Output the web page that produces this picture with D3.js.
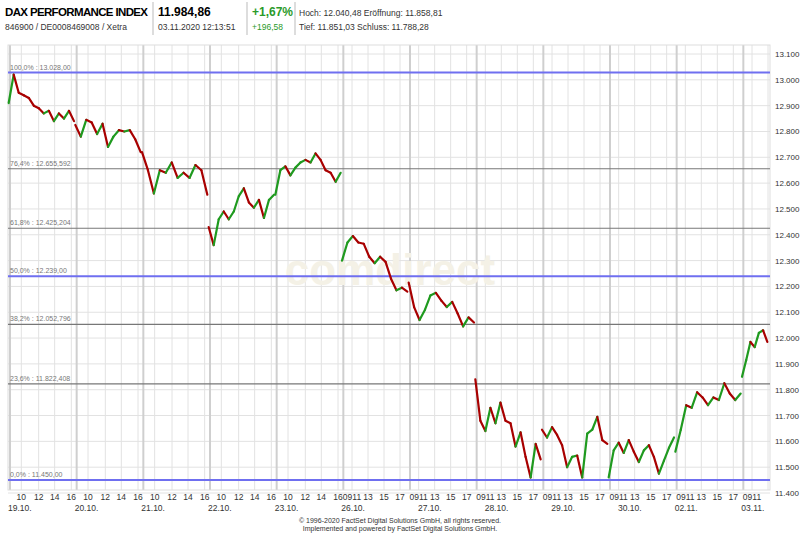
<!DOCTYPE html>
<html><head><meta charset="utf-8">
<script src="https://cdn.jsdelivr.net/npm/d3@7"></script>
<style>body{margin:0;background:#fff;font-family:Arial,"Liberation Sans",sans-serif}</style>
</head><body><svg id="c" width="800" height="533"></svg>
<script>
const dayLabels = ["19.10.","20.10.","21.10.","22.10.","23.10.","26.10.","27.10.","28.10.","29.10.","30.10.","02.11.","03.11."];
const dayValues = [
 [12910,13020,12950,12940,12930,12900,12890,12870,12880,12840,12870,12850,12880,12840],
 [12825,12780,12845,12835,12790,12830,12740,12780,12805,12800,12805,12770,12720],
 [12720,12650,12560,12650,12640,12680,12620,12640,12620,12670,12650,12555],
 [12430,12360,12460,12490,12460,12490,12550,12580,12525,12505,12535,12465,12535,12555],
 [12555,12650,12665,12630,12660,12680,12690,12680,12715,12690,12650,12640,12605,12640],
 [12300,12370,12395,12370,12365,12315,12290,12315,12295,12230,12185,12195,12180],
 [12215,12120,12070,12110,12165,12175,12145,12120,12140,12095,12045,12080,12060],
 [11840,11680,11640,11730,11670,11750,11680,11670,11580,11635,11540,11460,11590,11530],
 [11645,11615,11655,11625,11585,11500,11540,11545,11460,11630,11645,11695,11605,11590],
 [11460,11565,11595,11555,11605,11560,11520,11565,11585,11540,11475,11525,11575,11615],
 [11560,11645,11740,11730,11790,11770,11740,11770,11760,11825,11785,11760,11785],
 [11850,11915,11985,11965,12020,12030,11985]
];
const daySpan = [0.98,0.98,0.98,0.98,0.98,0.98,0.98,0.98,0.98,0.98,0.98,0.38];
const hourLabelsA = ["10","12","14","16"], hourPosA = [0.2,0.46,0.7,0.95];
const hourLabelsB = ["0911","13","15","17"], hourPosB = [0.16,0.4,0.64,0.88];
const yTicks = [11400,11500,11600,11700,11800,11900,12000,12100,12200,12300,12400,12500,12600,12700,12800,12900,13000,13100];
const fibLabels = ["100,0% : 13.028,00","76,4% : 12.655,592","61,8% : 12.425,204","50,0% : 12.239,00","38,2% : 12.052,796","23,6% : 11.822,408","0,0% : 11.450,00"];
const fibValues = [13028,12655.592,12425.204,12239,12052.796,11822.408,11450];
const fibBlue = [true,false,false,true,false,false,true];

const svg = d3.select("#c");
const L=8,R=770,T=45,B=490;
const x = d3.scaleLinear().domain([0,12]).range([8,808]);
const y = d3.scaleLinear().domain([11400,13100]).range([493,54]);
const fmt = v => d3.format(",")(v).replace(/,/g,".");

const h = svg.append("g");
h.append("text").attr("x",5).attr("y",16).attr("font-size",11.5).attr("font-weight","bold").attr("textLength",143).text("DAX PERFORMANCE INDEX");
h.append("text").attr("x",5).attr("y",30).attr("font-size",8.5).attr("fill","#333").text("846900 / DE0008469008 / Xetra");
h.append("text").attr("x",158).attr("y",16).attr("font-size",12).attr("font-weight","bold").text("11.984,86");
h.append("text").attr("x",158).attr("y",30).attr("font-size",8.5).attr("fill","#333").text("03.11.2020 12:13:51");
h.append("text").attr("x",252).attr("y",16).attr("font-size",12).attr("font-weight","bold").attr("fill","#2a9a2a").text("+1,67%");
h.append("text").attr("x",252).attr("y",30).attr("font-size",8.5).attr("fill","#2a9a2a").text("+196,58");
h.append("text").attr("x",299).attr("y",16).attr("font-size",8.5).attr("fill","#333").text("Hoch: 12.040,48  Eröffnung: 11.858,81");
h.append("text").attr("x",299).attr("y",30).attr("font-size",8.5).attr("fill","#333").text("Tief: 11.851,03     Schluss: 11.788,28");
[153,247,295].forEach(px=>h.append("line").attr("x1",px).attr("x2",px).attr("y1",2).attr("y2",35).attr("stroke","#bbb"));

const g = svg.append("g");
yTicks.forEach(v=>g.append("line").attr("x1",L).attr("x2",R).attr("y1",y(v)).attr("y2",y(v)).attr("stroke","#e2e2e2"));
dayLabels.forEach((d,i)=>{
  const pos = i<5?hourPosA:hourPosB;
  pos.forEach(p=>{ if(x(i+p)<R) g.append("line").attr("x1",x(i+p)).attr("x2",x(i+p)).attr("y1",T).attr("y2",B).attr("stroke","#e2e2e2");});
  g.append("line").attr("x1",x(i)+2).attr("x2",x(i)+2).attr("y1",T).attr("y2",B).attr("stroke","#cfcfcf").attr("stroke-width",2);
});
g.append("rect").attr("x",L).attr("y",T).attr("width",R-L).attr("height",B-T).attr("fill","none").attr("stroke","#ddd");

svg.append("text").attr("x",390).attr("y",285).attr("text-anchor","middle").attr("font-size",44).attr("font-weight","bold")
  .attr("fill","#f4f1e6").text("comdirect");

fibValues.forEach((v,i)=>{
  svg.append("line").attr("x1",L).attr("x2",R).attr("y1",y(v)).attr("y2",y(v))
    .attr("stroke",fibBlue[i]?"#6f6ff0":"#777").attr("stroke-width",fibBlue[i]?2:1.2);
  svg.append("text").attr("x",10).attr("y",y(v)-3).attr("font-size",7).attr("fill","#777").text(fibLabels[i]);
});

const pg = svg.append("g");
dayValues.forEach((vals,i)=>{
  const n = vals.length;
  const pts = vals.map((v,j)=>[x(i+0.01+daySpan[i]*j/(n-1)), y(v)]);
  for(let j=1;j<n;j++){
    pg.append("line").attr("x1",pts[j-1][0]).attr("y1",pts[j-1][1]).attr("x2",pts[j][0]).attr("y2",pts[j][1])
      .attr("stroke",vals[j]>=vals[j-1]?"#1f9a1f":"#a80000").attr("stroke-width",2.2).attr("stroke-linecap","round");
  }
});

yTicks.forEach(v=>svg.append("text").attr("x",775).attr("y",y(v)+3).attr("font-size",8).attr("fill","#333").text(fmt(v)));
dayLabels.forEach((d,i)=>{
  const labs = i<5?hourLabelsA:hourLabelsB, pos=i<5?hourPosA:hourPosB;
  labs.forEach((l,k)=>{ if(x(i+pos[k])<762) svg.append("text").attr("x",x(i+pos[k])).attr("y",500).attr("text-anchor","middle").attr("font-size",8.5).attr("fill","#333").text(l);});
  svg.append("text").attr("x",x(i)+(i>=6&&i<=9?10:0)).attr("y",511).attr("font-size",8.5).attr("fill","#333").text(d);
});
svg.append("text").attr("x",400).attr("y",523).attr("text-anchor","middle").attr("font-size",7).attr("fill","#333").text("© 1996-2020 FactSet Digital Solutions GmbH, all rights reserved.");
svg.append("text").attr("x",400).attr("y",531).attr("text-anchor","middle").attr("font-size",7).attr("fill","#333").text("Implemented and powered by FactSet Digital Solutions GmbH.");
</script></body></html>
